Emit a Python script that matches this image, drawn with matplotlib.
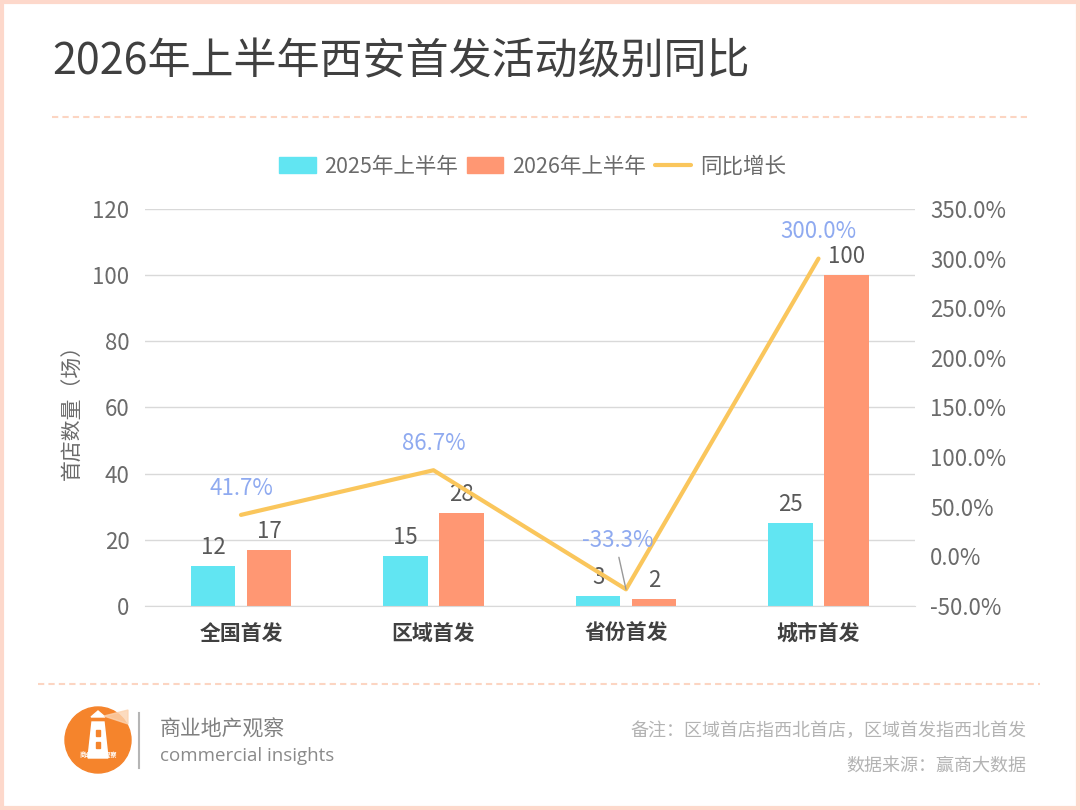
import matplotlib.pyplot as plt
from matplotlib.patches import Rectangle, Circle, Polygon
from matplotlib.lines import Line2D
import numpy as np

plt.rcParams['font.family'] = ['Noto Sans CJK SC', 'DejaVu Sans']

# 数据
categories = ["全国首发", "区域首发", "省份首发", "城市首发"]
h1_2025 = [12, 15, 3, 25]
h1_2026 = [17, 28, 2, 100]
growth = [41.7, 86.7, -33.3, 300.0]  # 同比增长 %
series_names = ["2025年上半年", "2026年上半年", "同比增长"]

c_2025 = "#61E5F2"
c_2026 = "#FF9773"
c_line = "#FAC65C"
c_pct = "#8FAAF0"
c_tick = "#6b6b6b"

fig = plt.figure(figsize=(10.8, 8.1), dpi=100)

# 外框
fig.patches.append(Rectangle((0.0015, 0.002), 0.997, 0.996, transform=fig.transFigure,
                             fill=False, edgecolor="#FDD8CB", linewidth=3))

fig.text(0.048, 0.923, "2026年上半年西安首发活动级别同比", fontsize=31, color="#404040",
         ha="left", va="center")
fig.add_artist(Line2D([0.048, 0.952], [0.856, 0.856], color="#FCD5C2", lw=1.5,
                      linestyle=(0, (3, 2))))
fig.add_artist(Line2D([0.035, 0.963], [0.156, 0.156], color="#FCD5C2", lw=1.5,
                      linestyle=(0, (3, 2))))

ax = fig.add_axes([0.134, 0.252, 0.713, 0.49])
x = np.arange(len(categories))
w = 0.23
b1 = ax.bar(x - 0.145, h1_2025, width=w, color=c_2025, zorder=2)
b2 = ax.bar(x + 0.145, h1_2026, width=w, color=c_2026, zorder=2)
ax.bar_label(b1, padding=5, fontsize=16, color="#595959")
ax.bar_label(b2, padding=5, fontsize=16, color="#595959")

ax.set_ylim(0, 120)
ax.set_yticks(range(0, 121, 20))
ax.set_xlim(-0.5, 3.5)
ax.set_xticks(x)
ax.set_xticklabels(categories, fontsize=15, fontweight="bold", color="#404040")
ax.tick_params(axis="x", length=0, pad=12)
ax.tick_params(axis="y", length=0, pad=11, labelsize=16, labelcolor=c_tick)
ax.grid(axis="y", color="#D9D9D9", lw=1, zorder=0)
for s in ["top", "left", "right"]:
    ax.spines[s].set_visible(False)
ax.spines["bottom"].set_color("#D9D9D9")
ax.set_ylabel("首店数量（场）", fontsize=15, color=c_tick, labelpad=6)

ax2 = ax.twinx()
ax2.plot(x, growth, color=c_line, lw=3, zorder=3, solid_capstyle="round")
ax2.set_ylim(-50, 350)
ax2.set_yticks(range(-50, 351, 50))
ax2.set_yticklabels([f"{v:.1f}%" for v in range(-50, 351, 50)])
ax2.tick_params(axis="y", length=0, pad=11, labelsize=16, labelcolor=c_tick)
for s in ax2.spines.values():
    s.set_visible(False)

for i, g in enumerate(growth):
    if g < 0:
        ax2.annotate(f"{g:.1f}%", xy=(x[i], g), xytext=(-6, 27), textcoords="offset points",
                     ha="center", va="bottom", fontsize=16, color=c_pct,
                     arrowprops=dict(arrowstyle="-", color="#999999", lw=1,
                                     shrinkA=2, shrinkB=0, relpos=(0.5, 0)))
    else:
        ax2.annotate(f"{g:.1f}%", xy=(x[i], g), xytext=(0, 11), textcoords="offset points",
                     ha="center", va="bottom", fontsize=16, color=c_pct)

handles = [Rectangle((0, 0), 1, 1, color=c_2025), Rectangle((0, 0), 1, 1, color=c_2026),
           Line2D([0], [0], color=c_line, lw=3, solid_capstyle="round")]
fig.legend(handles, series_names, loc="center", bbox_to_anchor=(0.493, 0.794), ncol=3,
           frameon=False, fontsize=15.5, labelcolor=c_tick, handlelength=1.7,
           handleheight=0.75, handletextpad=0.4, columnspacing=0.4)

# 页脚 logo
lax = fig.add_axes([0.0, 0.0, 1.0, 1.0], facecolor="none")
lax.set_xlim(0, 1080)
lax.set_ylim(810, 0)
lax.axis("off")
lax.add_patch(Circle((98, 740), 33, color="#F5842C"))
lax.add_patch(Polygon([[92, 722], [104, 722], [108, 758], [88, 758]], closed=True, color="white"))
lax.add_patch(Polygon([[91, 717], [98, 711], [105, 717]], closed=True, color="white"))
lax.add_patch(Polygon([[104, 716], [128, 710], [128, 724]], closed=True, color="#FCD3B0", alpha=0.8))
lax.add_patch(Rectangle((96, 730), 4, 6, color="#F5842C"))
lax.add_patch(Rectangle((96, 742), 4, 6, color="#F5842C"))
lax.text(98, 754, "商业地产观察", fontsize=4.5, color="white", ha="center", va="center", fontweight="bold")
lax.plot([139, 139], [713, 768], color="#B5B5B5", lw=1.5)
lax.text(160, 730, "商业地产观察", fontsize=15, color="#7f7f7f", ha="left", va="center")
lax.text(160, 756, "commercial insights", fontsize=13.5, color="#8a8a8a", ha="left", va="center",
         family=["Open Sans", "DejaVu Sans"])
lax.text(1026, 731, "备注：区域首店指西北首店，区域首发指西北首发", fontsize=13, color="#B3B3B3",
         ha="right", va="center")
lax.text(1026, 766, "数据来源：赢商大数据", fontsize=13, color="#B3B3B3", ha="right", va="center")

fig.savefig("out.png", dpi=100)
